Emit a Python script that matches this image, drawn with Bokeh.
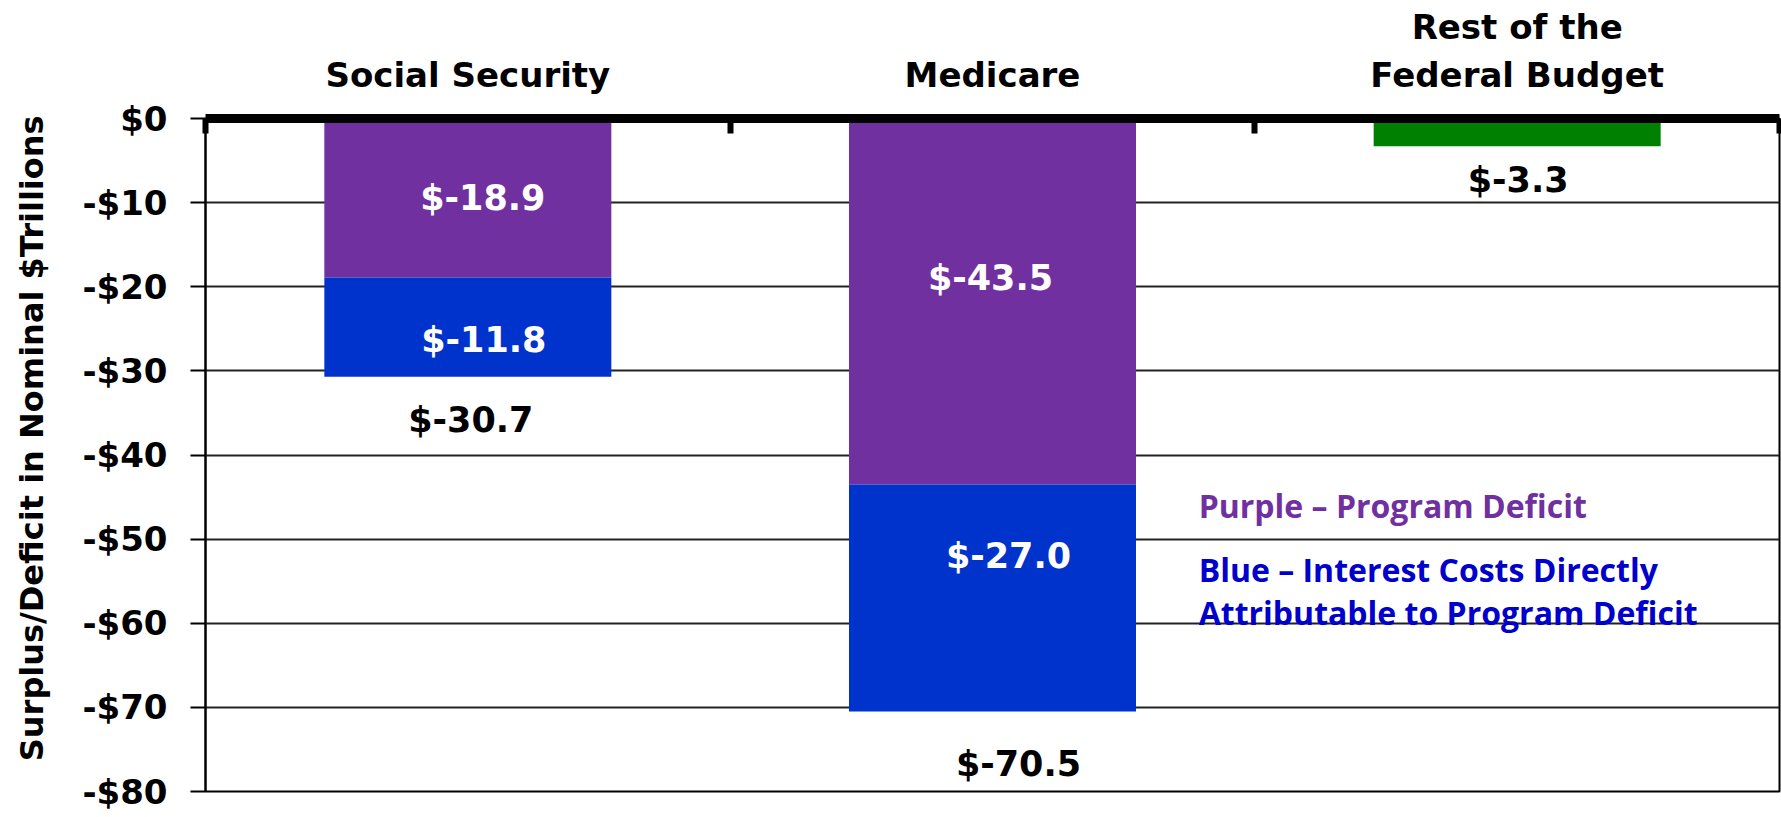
from bokeh.plotting import figure
from bokeh.models import Range1d, FixedTicker, ColumnDataSource
from bokeh.core.properties import value
from bokeh.embed import file_html
from bokeh.resources import INLINE

# ---- data ----
categories = ["Social Security", "Medicare", "Rest of the\nFederal Budget"]
program_deficit = [-18.9, -43.5]      # purple (Social Security, Medicare)
interest_costs = [-11.8, -27.0]       # blue (Social Security, Medicare)
rest_of_budget = [-3.3]               # green (Rest of the Federal Budget)
totals = [-30.7, -70.5, -3.3]
y_ticks = [0, -10, -20, -30, -40, -50, -60, -70, -80]
y_tick_labels = ["$0", "-$10", "-$20", "-$30", "-$40", "-$50", "-$60", "-$70", "-$80"]
legend_lines = ["Purple \u2013 Program Deficit",
                "Blue \u2013 Interest Costs Directly",
                "Attributable to Program Deficit"]

PURPLE = "#7030A0"
BLUE = "#0033CC"
GREEN = "#008000"
FONT = value("DejaVu Sans")

centers = [i + 0.5 for i in range(len(categories))]
bar_w = 0.547

p = figure(width=1781, height=817, x_range=Range1d(0, len(categories)),
           y_range=Range1d(y_ticks[-1], y_ticks[0]),
           output_backend="svg", toolbar_location=None, x_axis_location="above",
           min_border_left=205, min_border_right=2, min_border_top=118, min_border_bottom=26)
p.background_fill_color = "white"
p.border_fill_color = "white"
p.outline_line_color = "black"
p.outline_line_width = 2

# bars
stack_bottom = [a + b for a, b in zip(program_deficit, interest_costs)]
p.vbar(x=centers[:2], width=bar_w, top=[0] * 2, bottom=program_deficit,
       fill_color=PURPLE, line_color=None)
p.vbar(x=centers[:2], width=bar_w, top=program_deficit, bottom=stack_bottom,
       fill_color=BLUE, line_color=None)
p.vbar(x=centers[2:], width=bar_w, top=[0], bottom=rest_of_budget,
       fill_color=GREEN, line_color=None)

# segment labels (white)
seg_src = ColumnDataSource(dict(
    x=centers[:2] + centers[:2],
    y=[v / 2 for v in program_deficit] + [(a + b) / 2 for a, b in zip(program_deficit, stack_bottom)],
    text=["$%.1f" % v for v in program_deficit] + ["$%.1f" % v for v in interest_costs],
    xo=[15, -2, 16, 16],
    yo=[0, -23, 13, -42],
))
p.text(x="x", y="y", text="text", x_offset="xo", y_offset="yo", source=seg_src,
       text_color="white", text_font=FONT, text_font_style="bold", text_font_size="35px",
       text_align="center", text_baseline="middle")

# total labels (black)
tot_src = ColumnDataSource(dict(
    x=centers, y=totals, text=["$%.1f" % v for v in totals],
    xo=[3, 26, 1], yo=[43, 52, 34],
))
p.text(x="x", y="y", text="text", x_offset="xo", y_offset="yo", source=tot_src,
       text_color="black", text_font=FONT, text_font_style="bold", text_font_size="35px",
       text_align="center", text_baseline="middle")

# legend text
leg_src = ColumnDataSource(dict(x=[1.893] * 3, y=[-46.0, -53.6, -58.7], text=legend_lines,
                                color=[PURPLE, "#0000CC", "#0000CC"]))
p.text(x="x", y="y", text="text", text_color="color", source=leg_src,
       text_font=value("Open Sans"), text_font_style="bold", text_font_size="32px",
       text_align="left", text_baseline="middle")

# x axis (top)
xa = p.xaxis[0]
xa.ticker = FixedTicker(ticks=centers, minor_ticks=list(range(len(categories) + 1)))
xa.major_label_overrides = {c: n for c, n in zip(centers, categories)}
xa.axis_line_width = 9
xa.axis_line_color = "black"
xa.major_tick_in = 0
xa.major_tick_out = 0
xa.minor_tick_in = 15
xa.minor_tick_out = 0
xa.minor_tick_line_width = 6
xa.minor_tick_line_color = "black"
xa.major_label_text_font = "DejaVu Sans"
xa.major_label_text_font_style = "bold"
xa.major_label_text_font_size = "34px"
xa.major_label_text_color = "black"
xa.major_label_text_line_height = 1.2
xa.major_label_standoff = 24

# y axis
ya = p.yaxis[0]
ya.ticker = FixedTicker(ticks=y_ticks)
ya.major_label_overrides = {t: l for t, l in zip(y_ticks, y_tick_labels)}
ya.axis_line_width = 2
ya.axis_line_color = "black"
ya.major_tick_in = 0
ya.major_tick_out = 15
ya.major_tick_line_width = 2
ya.minor_tick_line_color = None
ya.major_label_text_font = "DejaVu Sans"
ya.major_label_text_font_style = "bold"
ya.major_label_text_font_size = "34px"
ya.major_label_text_color = "black"
ya.major_label_standoff = 23
ya.axis_label = "\u00a0" * 3 + "Surplus/Deficit in Nominal $Trillions"
ya.axis_label_text_font = "DejaVu Sans"
ya.axis_label_text_font_style = "bold"
ya.axis_label_text_font_size = "32px"
ya.axis_label_text_color = "black"
ya.axis_label_standoff = 28

p.xgrid.visible = False
p.ygrid.ticker = FixedTicker(ticks=y_ticks)
p.ygrid.grid_line_color = "#222222"
p.ygrid.grid_line_width = 2

open("out.html", "w").write(file_html(p, INLINE))
